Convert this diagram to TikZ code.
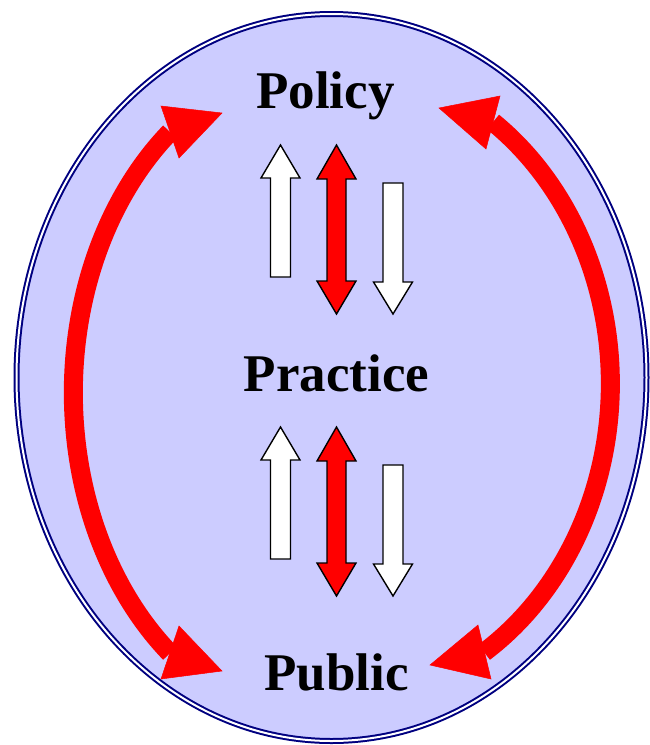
\documentclass[tikz,border=0pt]{standalone}
\usepackage{fontspec}
\setmainfont{Liberation Serif}
\definecolor{lav}{HTML}{CCCCFF}
\definecolor{navyb}{HTML}{000080}
\definecolor{redf}{HTML}{FF0000}
\tikzset{
  txtlabel/.style={font=\fontsize{53}{60}\selectfont\bfseries, anchor=base, inner sep=0pt},
  blockarrow/.style={draw=black, line width=1.4pt, line join=miter},
  redshaft/.style={draw=redf, line width=19pt},
  redhead/.style={fill=redf, draw=redf, line width=0.5pt, line join=miter},
  uparr/.pic={\draw[blockarrow, fill=white] (0,0) -- (19.5,33) -- (10,33) -- (10,132) -- (-10,132) -- (-10,33) -- (-19.5,33) -- cycle;},
  downarr/.pic={\draw[blockarrow, fill=white] (0,0) -- (19.5,-32) -- (10,-32) -- (10,-131) -- (-10,-131) -- (-10,-32) -- (-19.5,-32) -- cycle;},
  dblarr/.pic={\draw[blockarrow, fill=redf] (0,0) -- (19.5,34) -- (9.5,34) -- (9.5,136) -- (19.5,136) -- (0,169) -- (-19.5,136) -- (-9.5,136) -- (-9.5,34) -- (-19.5,34) -- cycle;}
}
\begin{document}
\begin{tikzpicture}[x=1pt,y=-1pt]
\useasboundingbox (0,0) rectangle (650,745);
% big double ellipse
\draw[draw=navyb, line width=2pt, double=white, double distance=2pt, fill=lav]
  (331.5,377.5) ellipse [x radius=315, y radius=363.5];

% text nodes
\node[txtlabel] (policy) at (325.5,108) {Policy};
\node[txtlabel] (practice) at (336.5,391) {Practice};
\node[txtlabel] (public) at (336.5,690) {Public};

% red curved arrows
\coordinate (ltop) at (170,132);
\coordinate (rtop) at (493,122);
\draw[redshaft] (ltop) arc[start angle=231.4, end angle=128.6, x radius=257, y radius=333.5] coordinate (lbot);
\draw[redshaft] (rtop) arc[start angle=-54.6, end angle=56.8, x radius=279, y radius=321] coordinate (rbot);
\fill[redhead] (161,106) -- (222,113) -- (179,158) -- cycle;
\fill[redhead] (500,96) -- (439,108) -- (486,149) -- cycle;
\fill[redhead] (179,626) -- (222,671) -- (161,679) -- cycle;
\fill[redhead] (478,625) -- (430,665) -- (491,679) -- cycle;

% block arrows, upper group
\pic at (280.5,145) {uparr};
\pic at (336.5,145) {dblarr};
\pic at (393,314) {downarr};
% block arrows, lower group
\pic at (280.5,427) {uparr};
\pic at (336.5,427) {dblarr};
\pic at (393,596) {downarr};
\end{tikzpicture}
\end{document}
